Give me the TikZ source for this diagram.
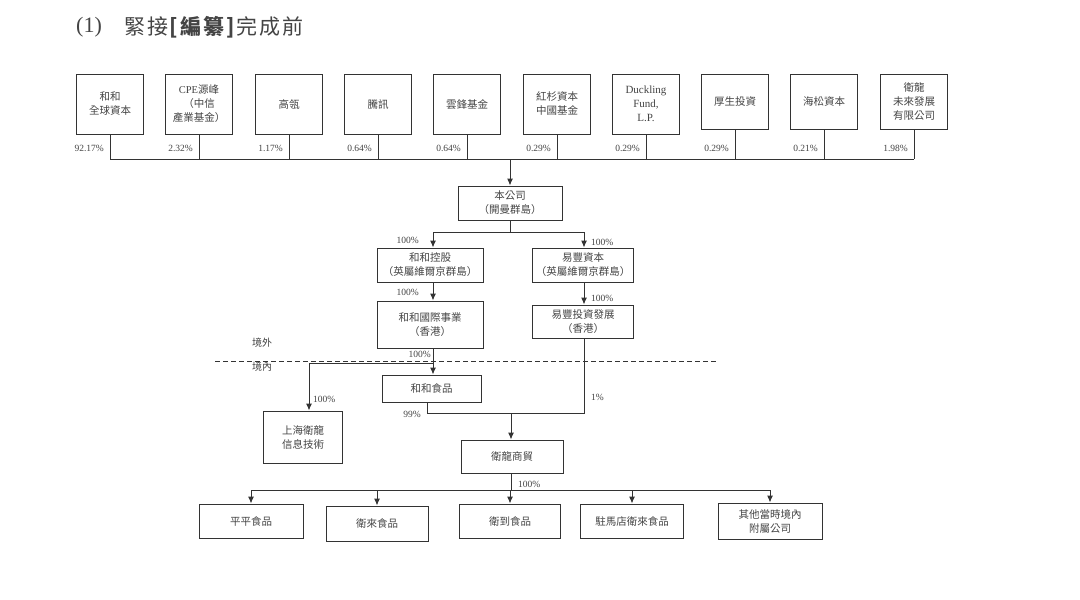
\documentclass[tikz,border=0pt]{standalone}
\usepackage{fontspec}
\setmainfont{Liberation Serif}
\newfontfamily\cjk{Noto Sans CJK TC}
\usetikzlibrary{arrows.meta}
\definecolor{linec}{HTML}{333333}
\definecolor{txtc}{HTML}{444444}
\tikzset{
  box/.style={draw=linec, line width=1pt, text=txtc, align=center, inner sep=0pt,
    font=\cjk\fontsize{10.5}{14}\selectfont},
  topbox/.style={box, minimum width=67pt, minimum height=60pt},
  topboxs/.style={box, minimum width=67pt, minimum height=55pt},
  pct/.style={text=txtc, inner sep=0pt, font=\rmfamily\fontsize{9.5}{10}\selectfont},
  zone/.style={text=txtc, inner sep=0pt, font=\cjk\fontsize{10}{11}\selectfont},
  conn/.style={draw=linec, line width=1pt},
  arr/.style={conn, -{Latex[length=7pt,width=6pt]}},
}
\begin{document}
\begin{tikzpicture}[x=1pt,y=-1pt]
\fill[white] (0,0) rectangle (1080,600);
\useasboundingbox (0,0) rectangle (1080,600);

% title
\node[anchor=west, text=txtc, inner sep=0pt, font=\rmfamily\fontsize{22}{24}\selectfont] (t0) at (76,27) {(1)};
\node[anchor=west, text=txtc, inner sep=0pt, font=\cjk\fontsize{21}{24}\selectfont\addfontfeature{LetterSpace=9}] (t1) at (124,27) {緊接\textbf{[編纂]}完成前};

% top shareholders
\node[topbox] (s1) at (110,104) {和和\\全球資本};
\node[topbox] (s2) at (199,104) {{\rmfamily CPE}源峰\\（中信\\產業基金）};
\node[topbox] (s3) at (289,104) {高瓴};
\node[topbox] (s4) at (378,104) {騰訊};
\node[topbox] (s5) at (467,104) {雲鋒基金};
\node[topbox] (s6) at (557,104) {紅杉資本\\中國基金};
\node[topbox, font=\rmfamily\fontsize{11}{14}\selectfont] (s7) at (646,104) {Duckling\\Fund,\\L.P.};
\node[topboxs] (s8) at (735,101.5) {厚生投資};
\node[topboxs] (s9) at (824,101.5) {海松資本};
\node[topboxs] (s10) at (914,101.5) {衛龍\\未來發展\\有限公司};

\coordinate (bus) at (0,159);
\foreach \n in {1,...,10} {\draw[conn] (s\n.south) -- (s\n.south |- bus);}
\draw[conn] (s1.south |- bus) -- (s10.south |- bus);

\node[pct, anchor=east] (p1) at (104,148) {92.17\%};
\node[pct, anchor=east] (p2) at (193,148) {2.32\%};
\node[pct, anchor=east] (p3) at (283,148) {1.17\%};
\node[pct, anchor=east] (p4) at (372,148) {0.64\%};
\node[pct, anchor=east] (p5) at (461,148) {0.64\%};
\node[pct, anchor=east] (p6) at (551,148) {0.29\%};
\node[pct, anchor=east] (p7) at (640,148) {0.29\%};
\node[pct, anchor=east] (p8) at (729,148) {0.29\%};
\node[pct, anchor=east] (p9) at (818,148) {0.21\%};
\node[pct, anchor=east] (p10) at (908,148) {1.98\%};

% company
\node[box, minimum width=104pt, minimum height=34pt] (co) at (510,203) {本公司\\（開曼群島）};
\draw[arr] (co.north |- bus) -- (co.north);

\node[box, minimum width=106pt, minimum height=34pt] (hh) at (430,265) {和和控股\\（英屬維爾京群島）};
\node[box, minimum width=101pt, minimum height=34pt] (yf) at (583,265) {易豐資本\\（英屬維爾京群島）};
\coordinate (jL) at (433,232);
\coordinate (jR) at (584,232);
\draw[conn] (co.south) -- (co.south |- jL);
\draw[conn] (jL) -- (jR);
\draw[arr] (jL) -- (jL |- hh.north);
\draw[arr] (jR) -- (jR |- yf.north);
\node[pct, anchor=east] (q1) at (419,240) {100\%};
\node[pct, anchor=west] (q2) at (591,242) {100\%};

\node[box, minimum width=106pt, minimum height=47pt] (hi) at (430,324.5) {和和國際事業\\（香港）};
\node[box, minimum width=101pt, minimum height=33pt] (yt) at (583,321.5) {易豐投資發展\\（香港）};
\draw[arr] (jL |- hh.south) -- (jL |- hi.north);
\draw[arr] (jR |- yf.south) -- (jR |- yt.north);
\node[pct, anchor=east] (q3) at (419,292) {100\%};
\node[pct, anchor=west] (q4) at (591,298) {100\%};

% border line
\node[zone] (out) at (262,343) {境外};
\node[zone] (in) at (262,367) {境內};
\coordinate (dl) at (215,361);
\coordinate (dr) at (718,361);
\draw[draw=linec, line width=1pt, dash pattern=on 4.5pt off 3.5pt] (dl) -- (dr);

\node[box, minimum width=99pt, minimum height=27pt] (hf) at (431.5,388.5) {和和食品};
\node[box, minimum width=79pt, minimum height=52pt] (sh) at (303,437) {上海衛龍\\信息技術};
\coordinate (b1) at (433,363);
\coordinate (b2) at (309,363);
\draw[arr] (b1 |- hi.south) -- (b1 |- hf.north);
\draw[arr] (b1) -- (b2) -- (b2 |- sh.north);
\node[pct, anchor=east] (q5) at (431,354) {100\%};
\node[pct, anchor=west] (q6) at (313,399) {100\%};

\node[box, minimum width=102pt, minimum height=33pt] (cw) at (512,456.5) {衛龍商貿};
\coordinate (m1) at (427,413);
\coordinate (m2) at (584,413);
\coordinate (m3) at (511,413);
\draw[conn] (m1 |- hf.south) -- (m1) -- (m2) -- (m2 |- yt.south);
\draw[arr] (m3) -- (m3 |- cw.north);
\node[pct, anchor=east] (q7) at (421,414) {99\%};
\node[pct, anchor=west] (q8) at (591,397) {1\%};

% subsidiaries
\node[box, minimum width=104pt, minimum height=34pt] (c1) at (251,521) {平平食品};
\node[box, minimum width=102pt, minimum height=35pt] (c2) at (377,523.5) {衛來食品};
\node[box, minimum width=101pt, minimum height=34pt] (c3) at (510,521) {衛到食品};
\node[box, minimum width=103pt, minimum height=34pt] (c4) at (632,521) {駐馬店衛來食品};
\node[box, minimum width=104pt, minimum height=36pt] (c5) at (770,521) {其他當時境內\\附屬公司};
\coordinate (bb) at (0,490);
\draw[conn] (cw.south -| m3) -- (m3 |- bb);
\draw[conn] (c1.north |- bb) -- (c5.north |- bb);
\foreach \n in {1,...,5} {\draw[arr] (c\n.north |- bb) -- (c\n.north);}
\node[pct, anchor=west] (q9) at (518,484) {100\%};
\end{tikzpicture}
\end{document}
